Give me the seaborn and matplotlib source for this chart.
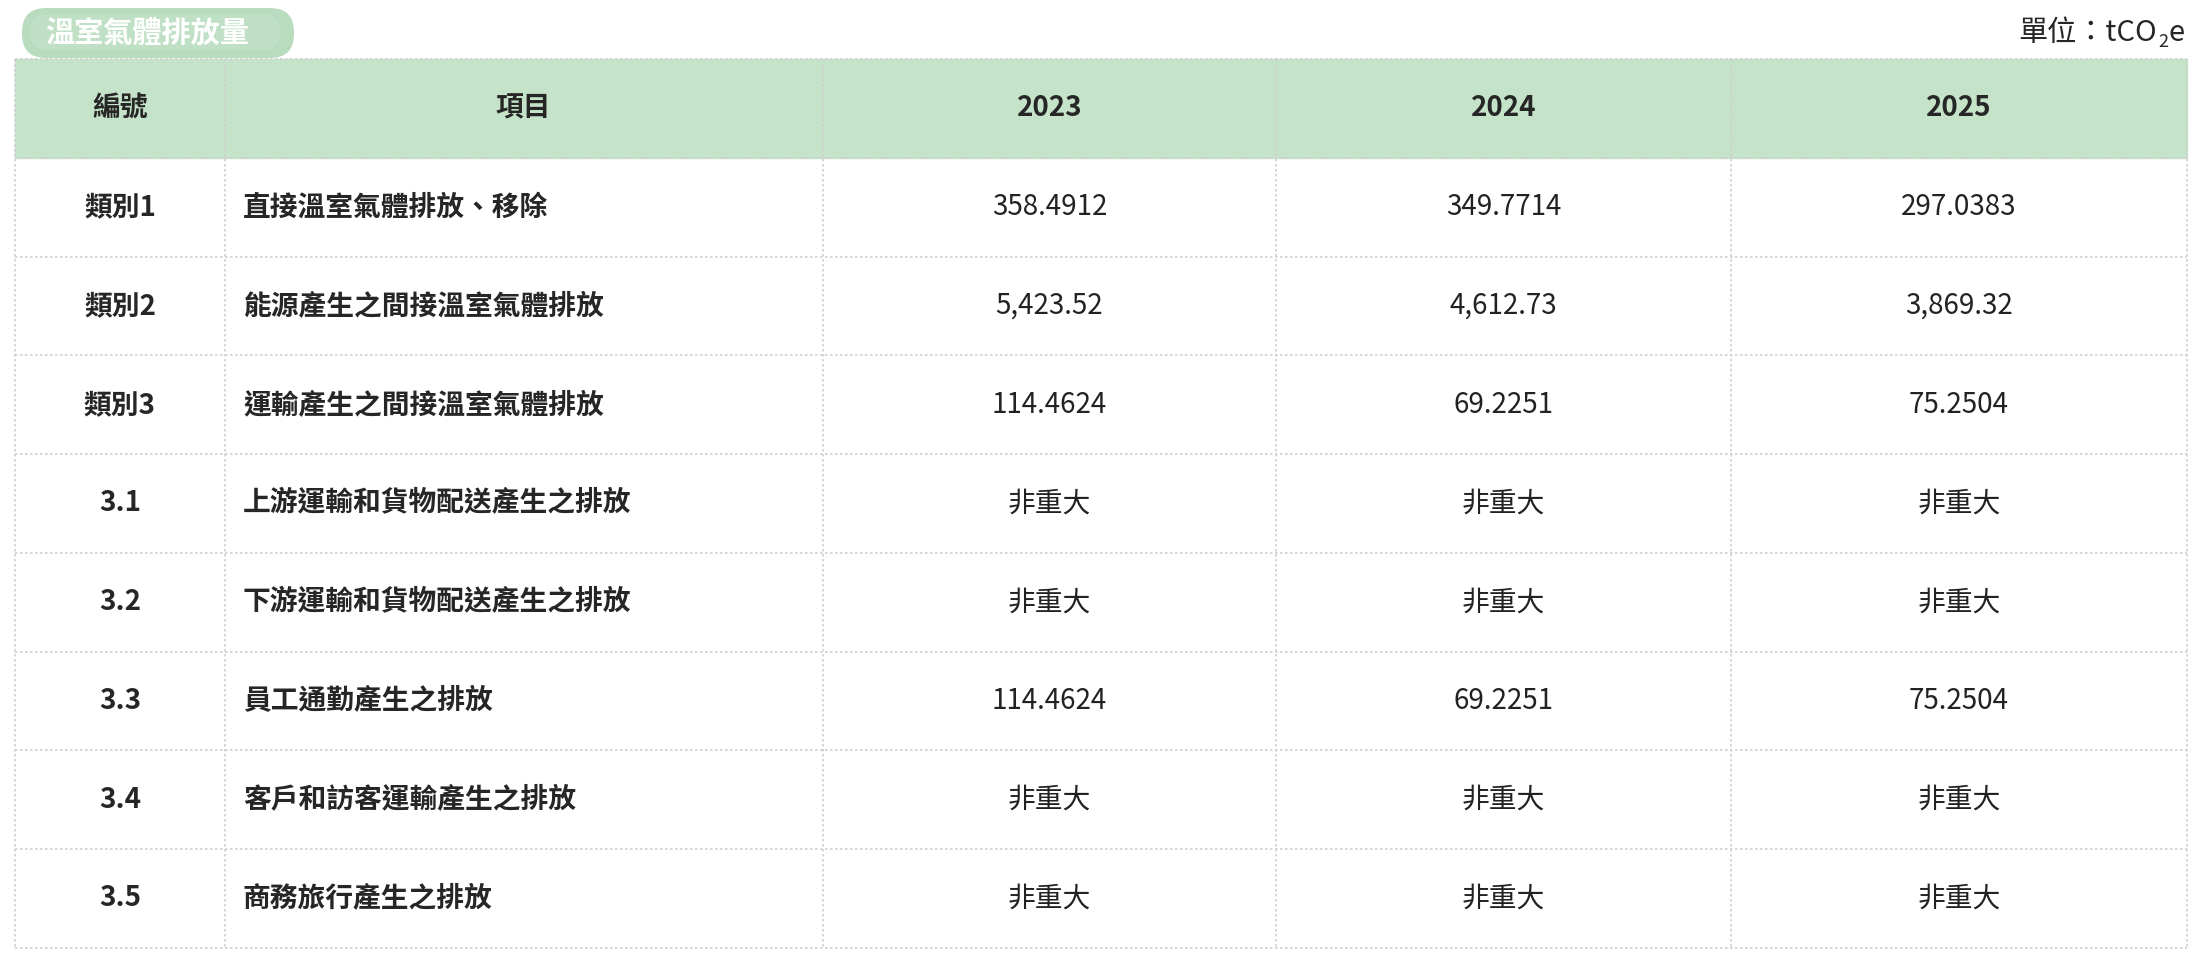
import matplotlib
matplotlib.use("Agg")
import matplotlib.pyplot as plt
import seaborn as sns
from matplotlib.patches import FancyBboxPatch, Rectangle

sns.set_theme(style="white")
plt.rcParams['font.family'] = ['Noto Sans CJK TC', 'DejaVu Sans']

title = "溫室氣體排放量"
headers = ["編號", "項目", "2023", "2024", "2025"]
codes = ["類別1", "類別2", "類別3", "3.1", "3.2", "3.3", "3.4", "3.5"]
items = ["直接溫室氣體排放、移除", "能源產生之間接溫室氣體排放", "運輸產生之間接溫室氣體排放",
         "上游運輸和貨物配送產生之排放", "下游運輸和貨物配送產生之排放", "員工通勤產生之排放",
         "客戶和訪客運輸產生之排放", "商務旅行產生之排放"]
v2023 = ["358.4912", "5,423.52", "114.4624", "非重大", "非重大", "114.4624", "非重大", "非重大"]
v2024 = ["349.7714", "4,612.73", "69.2251", "非重大", "非重大", "69.2251", "非重大", "非重大"]
v2025 = ["297.0383", "3,869.32", "75.2504", "非重大", "非重大", "75.2504", "非重大", "非重大"]

W, H = 2201, 966
fig = plt.figure(figsize=(W/100, H/100), dpi=100)
ax = fig.add_axes([0, 0, 1, 1])
ax.set_xlim(0, W); ax.set_ylim(H, 0); ax.axis("off")

cols = [15, 225, 823, 1276, 1731, 2187]
top, hdr_bot, row_h = 59, 158, 98.7
n = len(codes)
bottom = hdr_bot + n*row_h

ax.add_patch(Rectangle((cols[0], top), cols[-1]-cols[0], hdr_bot-top, color="#c5e3c9", zorder=0))
grid = dict(color="#cfcfcf", lw=1.2, ls=(0, (1.5, 1.5)), zorder=1)
for x in cols:
    ax.plot([x, x], [top, bottom], **grid)
ax.plot([cols[0], cols[-1]], [top, top], **grid)
for i in range(n+1):
    y = hdr_bot + i*row_h
    ax.plot([cols[0], cols[-1]], [y, y], **grid)

# tag
ax.add_patch(FancyBboxPatch((22, 8), 272, 50, boxstyle="round,pad=0,rounding_size=24",
                            fc="#b9dcbf", ec="none", zorder=2))
ax.add_patch(FancyBboxPatch((30, 14), 250, 36, boxstyle="round,pad=0,rounding_size=18",
                            fc="#c6e4ca", ec="none", alpha=0.6, zorder=2))
ax.text(45, 33, title, color="white", fontsize=21, fontweight="bold", va="center", ha="left", zorder=3)

# unit
fs = 21
t_e = ax.text(2185, 33, "e", fontsize=fs, ha="right", va="center")
fig.canvas.draw()
r = fig.canvas.get_renderer()
bb = t_e.get_window_extent(r)
t_2 = ax.text(bb.x0 - 1, 42, "2", fontsize=13, ha="right", va="center")
bb2 = t_2.get_window_extent(r)
ax.text(bb2.x0 - 1, 33, "單位：tCO", fontsize=fs, ha="right", va="center")

fsz = 20
def cx(j): return (cols[j] + cols[j+1]) / 2
hy = (top + hdr_bot) / 2
for j, h in enumerate(headers):
    ax.text(cx(j) if j != 1 else 523, hy, h, fontsize=fsz, fontweight="bold", ha="center", va="center")
for i in range(n):
    y = hdr_bot + (i + 0.5) * row_h
    ax.text(cx(0), y, codes[i], fontsize=fsz, fontweight="bold", ha="center", va="center")
    ax.text(243, y, items[i], fontsize=fsz, fontweight="bold", ha="left", va="center")
    for j, vals in zip((2, 3, 4), (v2023, v2024, v2025)):
        ax.text(cx(j), y, vals[i], fontsize=fsz, ha="center", va="center", color="#222222")

fig.savefig("out.png", dpi=100, facecolor="white")
